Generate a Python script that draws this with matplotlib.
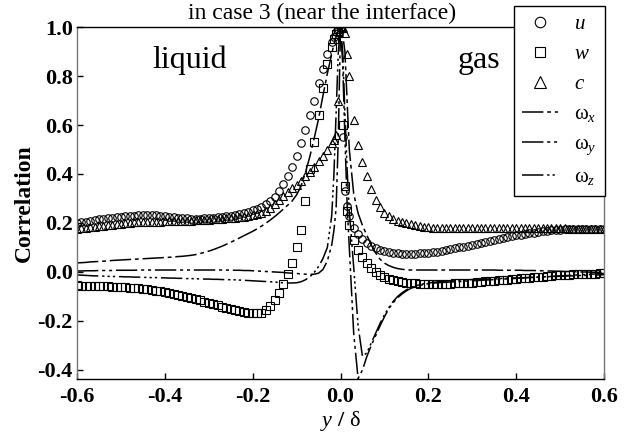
import matplotlib
matplotlib.use("Agg")
import matplotlib.pyplot as plt
from matplotlib.ticker import FormatStrFormatter

# sample positions y/delta (liquid side < 0 < gas side)
y_delta = [
    -0.60, -0.59, -0.58, -0.57, -0.56, -0.55, -0.54, -0.53, -0.52, -0.51,
    -0.50, -0.49, -0.48, -0.47, -0.46, -0.45, -0.44, -0.43, -0.42, -0.41,
    -0.40, -0.39, -0.38, -0.37, -0.36, -0.35, -0.34, -0.33, -0.32, -0.31,
    -0.30, -0.29, -0.28, -0.27, -0.26, -0.25, -0.24, -0.23, -0.22, -0.21,
    -0.20, -0.19, -0.18, -0.17, -0.16, -0.15, -0.14, -0.13, -0.12, -0.11,
    -0.10, -0.09, -0.08, -0.07, -0.06, -0.05, -0.04, -0.03, -0.02,
    -0.015, -0.01, -0.005, 0.0,
    0.005, 0.01, 0.015, 0.02, 0.03, 0.04, 0.05, 0.06, 0.07, 0.08, 0.09,
    0.10, 0.11, 0.12, 0.13, 0.14, 0.15, 0.16, 0.17, 0.18, 0.19,
    0.20, 0.21, 0.22, 0.23, 0.24, 0.25, 0.26, 0.27, 0.28, 0.29,
    0.30, 0.31, 0.32, 0.33, 0.34, 0.35, 0.36, 0.37, 0.38, 0.39,
    0.40, 0.41, 0.42, 0.43, 0.44, 0.45, 0.46, 0.47, 0.48, 0.49,
    0.50, 0.51, 0.52, 0.53, 0.54, 0.55, 0.56, 0.57, 0.58, 0.59, 0.60,
]

corr_u = [
    0.200, 0.203, 0.206, 0.209, 0.212, 0.215, 0.218, 0.220, 0.222, 0.224,
    0.226, 0.228, 0.229, 0.230, 0.231, 0.232, 0.232, 0.232, 0.231, 0.230,
    0.228, 0.226, 0.224, 0.222, 0.220, 0.219, 0.218, 0.218, 0.218, 0.219,
    0.220, 0.221, 0.223, 0.225, 0.227, 0.230, 0.233, 0.237, 0.241, 0.246,
    0.252, 0.259, 0.267, 0.277, 0.290, 0.308, 0.330, 0.358, 0.390, 0.428,
    0.472, 0.525, 0.580, 0.640, 0.700, 0.770, 0.830, 0.890, 0.940,
    0.960, 0.980, 0.990, 1.000,
    0.550, 0.330, 0.270, 0.230, 0.180, 0.155, 0.135, 0.120, 0.108, 0.098, 0.091,
    0.085, 0.081, 0.078, 0.076, 0.075, 0.074, 0.074, 0.075, 0.076, 0.077,
    0.079, 0.081, 0.083, 0.086, 0.089, 0.092, 0.096, 0.100, 0.104, 0.107,
    0.111, 0.115, 0.119, 0.123, 0.127, 0.131, 0.135, 0.139, 0.143, 0.146,
    0.149, 0.152, 0.155, 0.158, 0.161, 0.164, 0.166, 0.168, 0.170, 0.172,
    0.173, 0.174, 0.175, 0.176, 0.176, 0.177, 0.177, 0.177, 0.177, 0.177, 0.177,
]

corr_w = [
    -0.055, -0.056, -0.057, -0.057, -0.058, -0.058, -0.059, -0.059, -0.060, -0.061,
    -0.062, -0.063, -0.064, -0.065, -0.067, -0.069, -0.071, -0.073, -0.076, -0.079,
    -0.082, -0.085, -0.089, -0.093, -0.097, -0.101, -0.106, -0.111, -0.116, -0.121,
    -0.126, -0.131, -0.136, -0.141, -0.146, -0.151, -0.155, -0.159, -0.163, -0.166,
    -0.168, -0.169, -0.166, -0.155, -0.138, -0.115, -0.085, -0.050, -0.010, 0.035,
    0.100, 0.170, 0.290, 0.420, 0.530, 0.640, 0.750, 0.850, 0.920,
    0.950, 0.970, 0.990, 1.000,
    0.600, 0.350, 0.250, 0.190, 0.130, 0.090, 0.060, 0.035, 0.015, 0.000, -0.012,
    -0.020, -0.027, -0.032, -0.036, -0.040, -0.043, -0.045, -0.046, -0.048, -0.049,
    -0.050, -0.050, -0.050, -0.050, -0.049, -0.048, -0.047, -0.046, -0.045, -0.044,
    -0.043, -0.041, -0.040, -0.038, -0.037, -0.035, -0.034, -0.032, -0.031, -0.029,
    -0.028, -0.026, -0.025, -0.023, -0.022, -0.020, -0.019, -0.017, -0.016, -0.014,
    -0.013, -0.012, -0.011, -0.010, -0.009, -0.008, -0.008, -0.007, -0.007, -0.006, -0.006,
]

corr_c = [
    0.175, 0.178, 0.180, 0.183, 0.185, 0.187, 0.189, 0.191, 0.193, 0.195,
    0.197, 0.199, 0.200, 0.202, 0.203, 0.204, 0.205, 0.205, 0.206, 0.206,
    0.207, 0.207, 0.208, 0.208, 0.209, 0.209, 0.210, 0.211, 0.212, 0.213,
    0.214, 0.215, 0.216, 0.218, 0.219, 0.221, 0.222, 0.224, 0.226, 0.229,
    0.232, 0.236, 0.241, 0.250, 0.262, 0.278, 0.295, 0.312, 0.328, 0.343,
    0.357, 0.372, 0.390, 0.410, 0.430, 0.452, 0.475, 0.500, 0.525,
    0.540, 0.560, 0.700, 1.000,
    0.995, 0.975, 0.890, 0.800, 0.620, 0.520, 0.450, 0.390, 0.340, 0.295, 0.265,
    0.240, 0.228, 0.218, 0.210, 0.204, 0.199, 0.194, 0.190, 0.187, 0.184,
    0.182, 0.181, 0.180, 0.179, 0.179, 0.178, 0.178, 0.178, 0.178, 0.178,
    0.178, 0.178, 0.179, 0.179, 0.179, 0.179, 0.179, 0.179, 0.179, 0.179,
    0.179, 0.179, 0.179, 0.179, 0.178, 0.178, 0.178, 0.178, 0.178, 0.178,
    0.178, 0.178, 0.177, 0.177, 0.177, 0.177, 0.177, 0.177, 0.177, 0.177, 0.177,
]

corr_wx = [
    0.037, 0.038, 0.039, 0.041, 0.042, 0.043, 0.044, 0.045, 0.047, 0.048,
    0.049, 0.050, 0.051, 0.052, 0.053, 0.054, 0.055, 0.056, 0.057, 0.058,
    0.059, 0.060, 0.061, 0.063, 0.064, 0.066, 0.068, 0.071, 0.075, 0.080,
    0.085, 0.091, 0.098, 0.105, 0.113, 0.121, 0.130, 0.139, 0.148, 0.157,
    0.166, 0.176, 0.187, 0.199, 0.212, 0.226, 0.241, 0.257, 0.273, 0.290,
    0.315, 0.350, 0.405, 0.470, 0.545, 0.625, 0.720, 0.810, 0.890,
    0.930, 0.960, 0.985, 1.000,
    0.970, 0.900, 0.700, 0.500, 0.320, 0.240, 0.190, 0.150, 0.110, 0.078, 0.052,
    0.036, 0.026, 0.019, 0.014, 0.011, 0.009, 0.008, 0.008, 0.008, 0.008,
    0.008, 0.008, 0.008, 0.008, 0.008, 0.008, 0.008, 0.008, 0.008, 0.008,
    0.008, 0.008, 0.008, 0.008, 0.008, 0.008, 0.007, 0.007, 0.007, 0.007,
    0.007, 0.007, 0.006, 0.006, 0.006, 0.005, 0.005, 0.004, 0.004, 0.003,
    0.003, 0.002, 0.002, 0.001, 0.001, 0.000, 0.000, -0.001, -0.001, -0.002, -0.002,
]

corr_wy = [
    0.004, 0.004, 0.005, 0.005, 0.005, 0.006, 0.006, 0.006, 0.006, 0.007,
    0.007, 0.007, 0.007, 0.007, 0.008, 0.008, 0.008, 0.008, 0.008, 0.008,
    0.008, 0.008, 0.008, 0.008, 0.008, 0.008, 0.008, 0.008, 0.008, 0.008,
    0.008, 0.008, 0.008, 0.008, 0.008, 0.007, 0.007, 0.007, 0.006, 0.006,
    0.005, 0.004, 0.003, 0.002, 0.001, 0.000, -0.001, -0.002, -0.004, -0.005,
    -0.006, -0.008, -0.009, -0.010, -0.009, -0.005, 0.010, 0.045, 0.110,
    0.170, 0.260, 0.550, 1.000,
    0.850, 0.550, 0.280, 0.100, -0.250, -0.435, -0.400, -0.345, -0.300, -0.260, -0.220,
    -0.183, -0.150, -0.125, -0.105, -0.090, -0.077, -0.067, -0.060, -0.055, -0.051,
    -0.048, -0.046, -0.044, -0.043, -0.042, -0.041, -0.040, -0.039, -0.038, -0.037,
    -0.036, -0.035, -0.034, -0.033, -0.032, -0.031, -0.030, -0.029, -0.028, -0.027,
    -0.026, -0.025, -0.024, -0.023, -0.022, -0.021, -0.020, -0.019, -0.018, -0.017,
    -0.016, -0.015, -0.014, -0.013, -0.012, -0.011, -0.010, -0.009, -0.008, -0.007, -0.006,
]

corr_wz = [
    -0.012, -0.013, -0.014, -0.015, -0.016, -0.016, -0.017, -0.018, -0.018, -0.019,
    -0.019, -0.020, -0.020, -0.021, -0.021, -0.022, -0.022, -0.023, -0.023, -0.024,
    -0.024, -0.025, -0.025, -0.026, -0.026, -0.027, -0.027, -0.028, -0.028, -0.029,
    -0.029, -0.030, -0.030, -0.031, -0.031, -0.032, -0.032, -0.033, -0.034, -0.035,
    -0.036, -0.037, -0.038, -0.039, -0.040, -0.041, -0.043, -0.044, -0.045, -0.045,
    -0.044, -0.040, -0.032, -0.020, -0.002, 0.022, 0.055, 0.100, 0.230,
    0.400, 0.650, 0.900, 1.000,
    0.900, 0.650, 0.420, 0.250, 0.020, -0.220, -0.345, -0.330, -0.290, -0.250, -0.210,
    -0.175, -0.145, -0.120, -0.100, -0.085, -0.073, -0.064, -0.057, -0.052, -0.048,
    -0.045, -0.043, -0.041, -0.039, -0.037, -0.036, -0.035, -0.034, -0.033, -0.032,
    -0.031, -0.030, -0.030, -0.029, -0.028, -0.028, -0.027, -0.026, -0.026, -0.025,
    -0.024, -0.024, -0.023, -0.022, -0.022, -0.021, -0.020, -0.020, -0.019, -0.018,
    -0.018, -0.017, -0.016, -0.016, -0.015, -0.014, -0.014, -0.013, -0.012, -0.012, -0.011,
]

x_ticks = [-0.6, -0.4, -0.2, 0.0, 0.2, 0.4, 0.6]
y_ticks = [-0.4, -0.2, 0.0, 0.2, 0.4, 0.6, 0.8, 1.0]

plt.rcParams['font.family'] = ['Liberation Serif', 'DejaVu Serif']
plt.rcParams['mathtext.fontset'] = 'custom'
plt.rcParams['mathtext.rm'] = 'Liberation Serif'
plt.rcParams['mathtext.it'] = 'Liberation Serif:italic'
plt.rcParams['mathtext.bf'] = 'Liberation Serif:bold'
plt.rcParams['axes.unicode_minus'] = False

fig = plt.figure(figsize=(6.4, 4.36), dpi=100)
ax = fig.add_axes([0.1203, 0.1307, 0.8235, 0.8073])

ms = 5.4
ax.plot(y_delta, corr_u, linestyle='none', marker='o', ms=ms, mfc='none',
        mec='black', mew=0.8, label='$u$')
ax.plot(y_delta, corr_w, linestyle='none', marker='s', ms=ms * 0.95, mfc='none',
        mec='black', mew=0.8, label='$w$')
ax.plot(y_delta, corr_c, linestyle='none', marker='^', ms=ms * 1.05, mfc='none',
        mec='black', mew=0.8, label='$c$')
ax.plot(y_delta, corr_wx, color='black', lw=1.1,
        linestyle=(0, (14, 2.5, 2.5, 2.5)), label='ω$_x$')
ax.plot(y_delta, corr_wy, color='black', lw=1.1,
        linestyle=(0, (14, 2.5, 2, 2.5, 2, 2.5)), label='ω$_y$')
ax.plot(y_delta, corr_wz, color='black', lw=1.1,
        linestyle=(0, (14, 2.5, 1.5, 2, 1.5, 2, 1.5, 2.5)), label='ω$_z$')

ax.set_xlim(-0.6, 0.6)
ax.set_ylim(-0.437, 1.0)
ax.set_xticks(x_ticks)
ax.set_yticks(y_ticks)
ax.xaxis.set_major_formatter(FormatStrFormatter('%.1f'))
ax.yaxis.set_major_formatter(FormatStrFormatter('%.1f'))
ax.tick_params(direction='in', length=4, width=1, labelsize=16, color='black')
ax.tick_params(axis='x', pad=6)
ax.tick_params(axis='y', pad=3)
for lab in ax.get_xticklabels() + ax.get_yticklabels():
    lab.set_fontweight('bold')

for side in ['left', 'right']:
    ax.spines[side].set_color('#777777')
for side in ['top', 'bottom']:
    ax.spines[side].set_color('black')
for sp in ax.spines.values():
    sp.set_linewidth(1.0)

ax.set_ylabel('Correlation', fontsize=17, fontweight='bold', labelpad=2)
ax.set_xlabel(r'$\mathbf{\mathit{y}}$ $\mathbf{/}$ δ', fontsize=16, labelpad=1)

ax.text(0.143, 0.884, 'liquid', transform=ax.transAxes, fontsize=23, va='baseline')
ax.text(0.722, 0.884, 'gas', transform=ax.transAxes, fontsize=23, va='baseline')

fig.text(0.503, 1 - 19 / 436, 'in case 3 (near the interface)', fontsize=17,
         ha='center', va='baseline')

leg = ax.legend(loc='upper right', bbox_to_anchor=(605 / 640, 1 - 6.5 / 436),
                bbox_transform=fig.transFigure, fontsize=15, frameon=True,
                fancybox=False, framealpha=1, edgecolor='black',
                handlelength=1.7, handletextpad=0.8, labelspacing=0.5,
                borderpad=0.4, borderaxespad=0, markerscale=1.4)
leg.get_frame().set_linewidth(1.0)

fig.savefig('out.png', dpi=100)
